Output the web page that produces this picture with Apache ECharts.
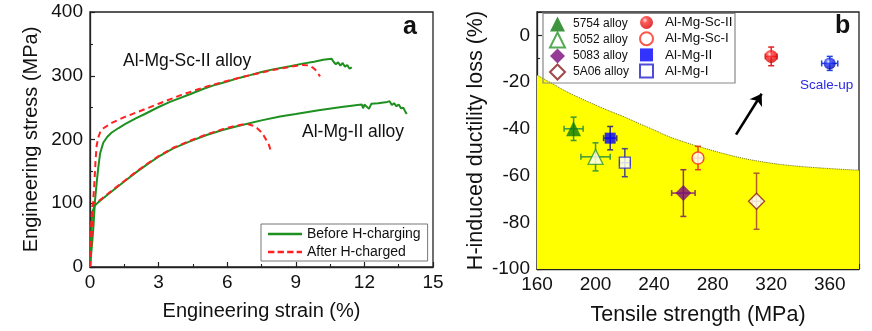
<!DOCTYPE html>
<html>
<head>
<meta charset="utf-8">
<script src="https://cdn.jsdelivr.net/npm/echarts@6/dist/echarts.min.js"></script>
<style>html,body{margin:0;padding:0;background:#fff}#c{width:872px;height:331px}</style>
</head>
<body>
<div id="c"></div>
<script>
// ---------- Panel a: stress-strain curves ----------
const scBeforeStrain = [0,0.05,0.1,0.15,0.22,0.3,0.36,0.44,0.58,0.75,0.95,1.25,1.53,2.0,2.4,3.0,3.5,4.37,5.0,5.5,6.0,6.56,7.0,7.5,8.0,8.75,9.3,9.8,10.2,10.57,10.65,10.75,10.85,10.95,11.05,11.15,11.25,11.35,11.45];
const scBeforeStress = [0,20,40,63,105,135,155,178,195,204,211,218,224,233,240,251,259,271,280,286,291,297,301,306,310,315,319,322,325,326.5,322,318,321,316,320,314,317,311,313];
const scAfterStrain = [0,0.05,0.1,0.15,0.19,0.24,0.29,0.36,0.44,0.6,0.95,1.5,2.0,2.5,3.0,4.0,5.0,6.0,7.0,8.0,8.75,9.3,9.62,9.84,9.95,10.06];
const scAfterStress = [0,30,70,110,131,165,190,203,211,218,226,235,242,249,256,270,282,292,301,309,314,317,316,310,305,299];
const mgBeforeStrain = [0,0.03,0.07,0.12,0.22,0.3,0.44,1.0,1.5,2.0,2.5,3.0,3.64,4.37,5.1,5.8,6.56,7.5,8.31,9.0,10.0,11.0,11.88,11.95,12.0,12.2,12.3,12.6,13.0,13.1,13.2,13.3,13.4,13.5,13.6,13.7,13.8,13.85];
const mgBeforeStress = [0,30,70,88,97,100,104,120,134,148,161,173,186,197,207,215,222,230,236,240,246,251,255,249,255,248,256,257,259,260,254,257,252,255,249,250,243,240];
const mgAfterStrain = [0,0.03,0.06,0.1,0.15,0.2,0.3,0.44,1.0,1.5,2.0,2.5,3.0,3.64,4.37,5.1,5.8,6.3,6.6,6.85,7.1,7.3,7.45,7.6,7.73,7.82,7.9];
const mgAfterStress = [0,40,75,95,100,98,101,105,121,135,149,162,174,187,198,208,216,221,223,224.5,222,218,213,206,198,192,183];
const strainTicks = {min: 0, max: 15, interval: 3};
const stressTicks = {min: 0, max: 400, interval: 100};

// ---------- Panel b: ductility loss vs strength ----------
const alloys = ['5754 alloy','5052 alloy','5083 alloy','5A06 alloy','Al-Mg-Sc-II','Al-Mg-Sc-I','Al-Mg-II','Al-Mg-I','Scale-up'];
const strengthMPa = [185,200,260,310,320,270,210,220,360];
const strengthErr = [6.5,10,8,3,4,3.5,4.5,3.5,5.5];
const ductilityLoss = [-40,-52,-67.5,-71,-9,-52.5,-44,-54.5,-12];
const ductilityErr = [5,6,10,12,4,5,5,6,3];
const boundaryStrength = [160,170,180,190,200,210,220,230,240,250,260,270,280,290,300,310,320,330,340,350,360,370,380];
const boundaryLoss = [-17,-20.5,-24,-27,-29.8,-32.5,-35,-37.8,-40.5,-43.3,-45.5,-47.5,-49.3,-51,-52.5,-53.7,-54.7,-55.5,-56.1,-56.6,-57,-57.4,-57.7];
const arrowStrength = [296,313.5];
const arrowLoss = [-42.5,-25];
const strengthTicks = {min: 160, max: 380, interval: 40};
const lossTicks = {min: -100, max: 10, interval: 20};

const pairs = (xs, ys) => xs.map((x, i) => [x, ys[i]]);

const FONT = 'Liberation Sans, Arial, sans-serif';
const GREEN = '#1e9020';
const RED = '#ff2020';

function sphere(c0, c1, c2) {
  return {type: 'radial', x: 0.38, y: 0.33, r: 0.7,
    colorStops: [{offset: 0, color: c0}, {offset: 0.3, color: c1}, {offset: 1, color: c2}]};
}
// style per point (same order as alloys)
const pointStyle = [
  {symbol: 'triangle', size: 15, item: {color: '#0c7a0c'}, err: '#3a9a3a'},
  {symbol: 'triangle', size: 15, item: {color: '#fff', borderColor: '#2a962a', borderWidth: 1.3}, err: '#3a9a3a'},
  {symbol: 'diamond', size: 16, item: {color: '#7a0a7a'}, err: '#8b3a5a'},
  {symbol: 'diamond', size: 16, item: {color: '#fff', borderColor: '#8b1a1a', borderWidth: 1.3}, err: '#b0602a'},
  {symbol: 'circle', size: 13, item: {color: sphere('#ffe0e0', '#ff3030', '#d00000')}, err: '#e02020'},
  {symbol: 'circle', size: 12, item: {color: '#fff', borderColor: '#ff2a1a', borderWidth: 1.4}, err: '#e8401a'},
  {symbol: 'rect', size: 11, item: {color: '#0000ff'}, err: '#3a3a70'},
  {symbol: 'rect', size: 11, item: {color: '#fff', borderColor: '#2020d0', borderWidth: 1.3}, err: '#4a4a80'},
  {symbol: 'circle', size: 12, item: {color: sphere('#e0e4ff', '#2a40ff', '#0000b0')}, err: '#2040e0'}
];

const axisCommon = {
  axisLine: {show: true, onZero: false, lineStyle: {color: '#222', width: 1.3}},
  axisTick: {show: true, inside: true, length: 5, lineStyle: {color: '#222', width: 1.2}},
  minorTick: {show: true, splitNumber: 2, length: 3, lineStyle: {color: '#222', width: 1.1}},
  splitLine: {show: false},
  nameLocation: 'middle',
  nameTextStyle: {fontFamily: FONT, color: '#111'},
  axisLabel: {fontFamily: FONT, fontSize: 19, color: '#111', showMaxLabel: true}
};

const series = [];
// Panel a curves
series.push({name: 'Before H-charging', type: 'line', xAxisIndex: 0, yAxisIndex: 0, data: pairs(scBeforeStrain, scBeforeStress), symbol: 'none', lineStyle: {color: GREEN, width: 2}, itemStyle: {color: GREEN}, z: 3});
series.push({name: 'Before H-charging', type: 'line', xAxisIndex: 0, yAxisIndex: 0, data: pairs(mgBeforeStrain, mgBeforeStress), symbol: 'none', lineStyle: {color: GREEN, width: 2}, itemStyle: {color: GREEN}, z: 3});
series.push({name: 'After H-charged', type: 'line', xAxisIndex: 0, yAxisIndex: 0, data: pairs(scAfterStrain, scAfterStress), symbol: 'none', lineStyle: {color: RED, width: 2, type: [6, 4]}, itemStyle: {color: RED}, z: 4});
series.push({name: 'After H-charged', type: 'line', xAxisIndex: 0, yAxisIndex: 0, data: pairs(mgAfterStrain, mgAfterStress), symbol: 'none', lineStyle: {color: RED, width: 2, type: [6, 4]}, itemStyle: {color: RED}, z: 4});

// Panel b: yellow region
series.push({name: 'region', type: 'line', xAxisIndex: 1, yAxisIndex: 1, data: pairs(boundaryStrength, boundaryLoss), symbol: 'none', smooth: true,
  lineStyle: {color: '#6a6a20', width: 1, type: 'dotted'}, areaStyle: {color: '#ffff00', opacity: 1, origin: 'start'}, z: 1, silent: true});

// error bars
series.push({name: 'errors', type: 'custom', xAxisIndex: 1, yAxisIndex: 1, z: 2, silent: true,
  data: alloys.map((a, i) => [strengthMPa[i], ductilityLoss[i], strengthErr[i], ductilityErr[i], i]),
  renderItem: function (params, api) {
    const x = api.value(0), y = api.value(1), ex = api.value(2), ey = api.value(3), idx = api.value(4);
    const top = api.coord([x, y + ey]), bot = api.coord([x, y - ey]);
    const lft = api.coord([x - ex, y]), rgt = api.coord([x + ex, y]);
    const st = {stroke: pointStyle[idx].err, lineWidth: 1.5};
    const cap = 3;
    return {type: 'group', children: [
      {type: 'line', shape: {x1: top[0], y1: top[1], x2: bot[0], y2: bot[1]}, style: st},
      {type: 'line', shape: {x1: top[0] - cap, y1: top[1], x2: top[0] + cap, y2: top[1]}, style: st},
      {type: 'line', shape: {x1: bot[0] - cap, y1: bot[1], x2: bot[0] + cap, y2: bot[1]}, style: st},
      {type: 'line', shape: {x1: lft[0], y1: lft[1], x2: rgt[0], y2: rgt[1]}, style: st},
      {type: 'line', shape: {x1: lft[0], y1: lft[1] - cap, x2: lft[0], y2: lft[1] + cap}, style: st},
      {type: 'line', shape: {x1: rgt[0], y1: rgt[1] - cap, x2: rgt[0], y2: rgt[1] + cap}, style: st}
    ]};
  }
});

// markers
alloys.forEach((a, i) => {
  series.push({name: a, type: 'scatter', xAxisIndex: 1, yAxisIndex: 1, symbol: pointStyle[i].symbol, symbolSize: pointStyle[i].size,
    data: [[strengthMPa[i], ductilityLoss[i]]], itemStyle: pointStyle[i].item, z: 5});
});

// arrow
series.push({name: 'arrow', type: 'lines', coordinateSystem: 'cartesian2d', xAxisIndex: 1, yAxisIndex: 1, z: 5, silent: true,
  symbol: ['none', 'arrow'], symbolSize: 11,
  lineStyle: {color: '#000', width: 2.6, opacity: 1, curveness: 0},
  data: [{coords: [[arrowStrength[0], arrowLoss[0]], [arrowStrength[1], arrowLoss[1]]]}]});

const ICON_SOLID = 'path://M0,0H32V2.2H0Z';
const ICON_DASH = 'path://M0,0H6V2.2H0Z M9,0H15V2.2H9Z M18,0H24V2.2H18Z M27,0H32V2.2H27Z';

const option = {
  animation: false,
  backgroundColor: '#fff',
  grid: [
    {left: 90, top: 12, right: 439, bottom: 64, show: true, borderColor: '#222', borderWidth: 1.3, backgroundColor: 'transparent'},
    {left: 537, top: 12, right: 13, bottom: 62, show: true, borderColor: '#222', borderWidth: 1.3, backgroundColor: 'transparent'}
  ],
  xAxis: [
    Object.assign({}, axisCommon, {type: 'value', gridIndex: 0, min: strainTicks.min, max: strainTicks.max, interval: strainTicks.interval,
      name: 'Engineering strain (%)', nameGap: 34, nameTextStyle: {fontFamily: FONT, color: '#111', fontSize: 20},
      axisLabel: Object.assign({}, axisCommon.axisLabel, {margin: 6})}),
    Object.assign({}, axisCommon, {type: 'value', gridIndex: 1, min: strengthTicks.min, max: strengthTicks.max, interval: strengthTicks.interval,
      name: 'Tensile strength (MPa)', nameGap: 35, nameTextStyle: {fontFamily: FONT, color: '#111', fontSize: 21.5},
      axisLabel: Object.assign({}, axisCommon.axisLabel, {margin: 6, showMaxLabel: false})})
  ],
  yAxis: [
    Object.assign({}, axisCommon, {type: 'value', gridIndex: 0, min: stressTicks.min, max: stressTicks.max, interval: stressTicks.interval,
      name: 'Engineering stress (MPa)', nameGap: 49, nameTextStyle: {fontFamily: FONT, color: '#111', fontSize: 20},
      axisLabel: Object.assign({}, axisCommon.axisLabel, {margin: 7})}),
    Object.assign({}, axisCommon, {type: 'value', gridIndex: 1, min: lossTicks.min, max: lossTicks.max, interval: lossTicks.interval,
      name: 'H-induced ductility loss (%)', nameGap: 50, nameTextStyle: {fontFamily: FONT, color: '#111', fontSize: 21.5},
      axisLabel: Object.assign({}, axisCommon.axisLabel, {margin: 7, showMaxLabel: false})})
  ],
  legend: [
    {data: [{name: 'Before H-charging', icon: ICON_SOLID}, {name: 'After H-charged', icon: ICON_DASH}],
      orient: 'vertical', left: 261, top: 224, itemWidth: 34, itemHeight: 14, itemGap: 4,
      padding: [3, 7, 2, 7], borderColor: '#777', borderWidth: 1, backgroundColor: '#fff',
      textStyle: {fontFamily: FONT, fontSize: 14, color: '#111'}, selectedMode: false},
    {data: alloys.slice(0, 4), orient: 'vertical', left: 549, top: 16.5, itemWidth: 15, itemHeight: 15, itemGap: 0, padding: 0,
      textStyle: {fontFamily: FONT, fontSize: 12, color: '#111', lineHeight: 14, padding: [0, 0, 0, 3]}, selectedMode: false},
    {data: alloys.slice(4, 8), orient: 'vertical', left: 639, top: 14.5, itemWidth: 13, itemHeight: 13, itemGap: 0.2, padding: 0,
      textStyle: {fontFamily: FONT, fontSize: 13.5, color: '#111', lineHeight: 16, padding: [0, 0, 0, 7]}, selectedMode: false}
  ],
  graphic: [
    {type: 'rect', shape: {x: 543, y: 13.5, width: 192, height: 69.5}, style: {fill: 'transparent', stroke: '#888', lineWidth: 1.2}, z: 10, silent: true},
    {type: 'text', left: 123, top: 52, style: {text: 'Al-Mg-Sc-II alloy', font: '17.5px ' + FONT, fill: '#111'}, z: 10},
    {type: 'text', left: 302, top: 123, style: {text: 'Al-Mg-II alloy', font: '17.5px ' + FONT, fill: '#111'}, z: 10},
    {type: 'text', left: 403, top: 15, style: {text: 'a', font: 'bold 25px ' + FONT, fill: '#111'}, z: 10},
    {type: 'text', left: 835, top: 14, style: {text: 'b', font: 'bold 25px ' + FONT, fill: '#111'}, z: 10},
    {type: 'text', left: 800, top: 78, style: {text: 'Scale-up', font: '13.5px ' + FONT, fill: '#2a2ae0'}, z: 10}
  ],
  series: series
};

const chart = echarts.init(document.getElementById('c'), null, {renderer: 'canvas'});
chart.setOption(option);
</script>
</body>
</html>
